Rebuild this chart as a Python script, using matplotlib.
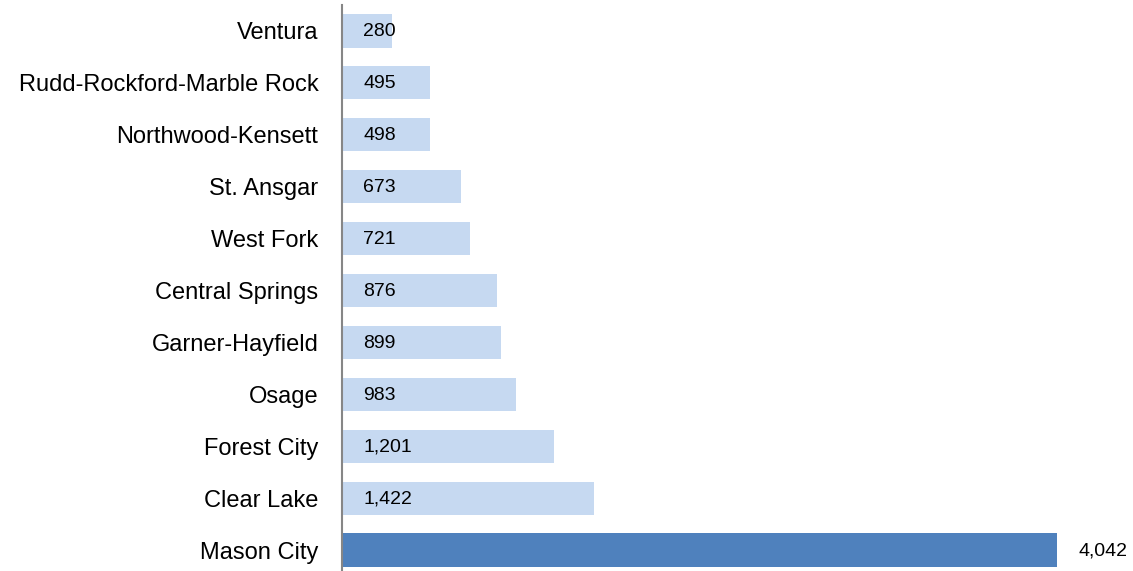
import numpy as np
import matplotlib.pyplot as plt

districts = ['Mason City', 'Clear Lake', 'Forest City', 'Osage', 'Garner-Hayfield',
             'Central Springs', 'West Fork', 'St. Ansgar', 'Northwood-Kensett',
             'Rudd-Rockford-Marble Rock', 'Ventura']
enrollment = [4042, 1422, 1201, 983, 899, 876, 721, 673, 498, 495, 280]
highlight = 'Mason City'

plt.rcParams['font.family'] = ['Liberation Sans', 'DejaVu Sans']

fig = plt.figure(figsize=(11.33, 5.71), dpi=100)
ax = fig.add_axes([342 / 1133, -5 / 571, 791 / 1133, 571 / 571])

y = np.arange(len(districts))
colors = ['#4F81BD' if d == highlight else '#C6D9F1' for d in districts]
ax.barh(y, enrollment, height=0.64, color=colors)

ax.set_xlim(0, 4471)
ax.set_ylim(-0.5, len(districts) - 0.5)
ax.set_yticks(y)
ax.set_yticklabels(districts, fontsize=17)
ax.tick_params(axis='y', length=0, pad=17)
ax.set_xticks([])

for s in ['top', 'right', 'bottom']:
    ax.spines[s].set_visible(False)
ax.spines['left'].set_color('#868686')
ax.spines['left'].set_linewidth(1.5)

for yi, v, d in zip(y, enrollment, districts):
    txt = f'{v:,}'
    if d == highlight:
        ax.text(v + 120, yi - 0.02, txt, va='center', ha='left', fontsize=14)
    else:
        ax.text(120, yi - 0.02, txt, va='center', ha='left', fontsize=14)

fig.savefig('out.png', dpi=100)
